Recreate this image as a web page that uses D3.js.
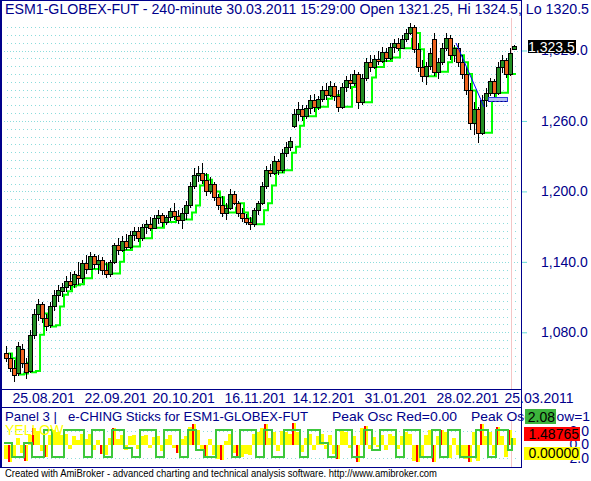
<!DOCTYPE html>
<html>
<head>
<meta charset="utf-8">
<script src="https://cdn.jsdelivr.net/npm/d3@7"></script>
<style>
body { margin: 0; background: #fff; }
svg { display: block; font-family: "Liberation Sans", Arial, sans-serif; }
</style>
</head>
<body>
<svg id="chart" width="591" height="481"></svg>
<script>
// price bars (240-minute)
var opens = [1062,1058,1050,1045,1066,1054,1047,1078,1096,1104,
  1092,1086,1102,1112,1115,1119,1124,1121,1129,1126,
  1139,1134,1145,1138,1142,1133,1130,1140,1154,1150,
  1158,1153,1163,1166,1160,1170,1172,1169,1177,1180,
  1174,1178,1183,1179,1176,1182,1188,1205,1214,1216,
  1210,1200,1206,1195,1188,1182,1186,1198,1190,1182,
  1177,1174,1172,1184,1190,1205,1218,1216,1226,1218,
  1233,1238,1256,1266,1270,1264,1271,1278,1272,1279,
  1286,1282,1290,1281,1272,1289,1295,1292,1300,1276,
  1297,1310,1306,1313,1311,1319,1314,1323,1326,1322,
  1330,1335,1340,1321,1306,1298,1307,1330,1302,1310,
  1322,1331,1316,1322,1310,1300,1286,1258,1270,1250,
  1278,1284,1294,1284,1306,1312,1300,1321.25];
var highs = [1068,1062,1056,1072,1070,1058,1082,1100,1108,1106,
  1096,1106,1116,1120,1122,1128,1131,1132,1140,1142,
  1146,1148,1147,1146,1144,1140,1142,1156,1160,1162,
  1164,1166,1170,1170,1172,1176,1178,1180,1184,1182,
  1180,1186,1190,1184,1186,1192,1208,1220,1222,1224,
  1216,1212,1208,1198,1196,1190,1202,1200,1192,1186,
  1181,1178,1186,1192,1208,1222,1223,1230,1228,1236,
  1242,1246,1270,1276,1274,1274,1282,1283,1281,1290,
  1292,1294,1292,1286,1292,1298,1300,1303,1302,1300,
  1314,1316,1316,1320,1323,1322,1326,1330,1331,1333,
  1338,1343,1342,1326,1312,1310,1322,1335,1314,1326,
  1335,1333,1325,1326,1316,1306,1292,1276,1272,1282,
  1288,1297,1296,1310,1316,1314,1322,1324.5];
var lows = [1055,1046,1038,1043,1050,1040,1045,1074,1090,1088,
  1081,1084,1098,1106,1110,1114,1116,1118,1120,1122,
  1130,1133,1134,1130,1129,1126,1127,1138,1146,1148,
  1150,1151,1158,1157,1158,1164,1166,1168,1172,1170,
  1171,1175,1176,1172,1168,1176,1186,1202,1208,1206,
  1196,1198,1192,1184,1178,1176,1184,1188,1178,1174,
  1171,1167,1170,1180,1188,1202,1212,1214,1214,1216,
  1229,1234,1254,1260,1260,1262,1266,1268,1269,1276,
  1278,1280,1277,1268,1270,1285,1287,1290,1270,1274,
  1294,1302,1304,1308,1309,1310,1312,1318,1320,1321,
  1327,1333,1318,1302,1293,1291,1303,1298,1296,1308,
  1320,1312,1310,1306,1296,1282,1252,1248,1241,1248,
  1272,1281,1280,1282,1301,1297,1298,1320.5];
var closes = [1058,1050,1044,1068,1054,1046,1078,1096,1104,1092,
  1085,1102,1112,1116,1119,1124,1120,1130,1126,1139,
  1134,1145,1138,1142,1133,1130,1140,1154,1150,1158,
  1153,1163,1166,1160,1170,1172,1169,1177,1180,1174,
  1178,1183,1179,1176,1182,1188,1205,1214,1216,1210,
  1200,1206,1195,1188,1182,1186,1198,1190,1182,1177,
  1174,1172,1184,1190,1205,1218,1216,1226,1218,1233,
  1238,1243,1266,1270,1264,1271,1278,1272,1279,1286,
  1282,1290,1281,1272,1289,1295,1292,1300,1276,1297,
  1310,1306,1313,1311,1319,1314,1323,1326,1322,1330,
  1335,1340,1321,1306,1298,1307,1318,1302,1310,1322,
  1331,1316,1322,1310,1300,1286,1258,1270,1250,1278,
  1284,1294,1284,1306,1312,1300,1318,1323.5];
// bright green trailing step line
var stopLine = [1062,1058,1050,1044,1045,1054,1046,1047,1078,1096,
  1092,1085,1086,1102,1112,1115,1119,1120,1121,1126,
  1126,1134,1134,1138,1138,1133,1130,1130,1140,1150,
  1150,1153,1153,1163,1160,1160,1170,1169,1169,1177,
  1174,1174,1178,1179,1176,1176,1182,1188,1205,1214,
  1210,1200,1200,1195,1188,1182,1182,1186,1190,1182,
  1177,1174,1172,1172,1184,1190,1205,1216,1216,1218,
  1218,1233,1238,1256,1266,1264,1264,1271,1272,1272,
  1279,1282,1282,1281,1272,1272,1289,1292,1292,1276,
  1276,1297,1306,1306,1311,1311,1314,1314,1323,1322,
  1322,1330,1335,1321,1306,1298,1298,1307,1302,1302,
  1310,1322,1316,1316,1310,1300,1286,1258,1258,1250,
  1250,1278,1284,1284,1284,1306,1300,1300];

// trendline and box drawn on the price panel (bar index, price)
var trendLine = [{ i: 112.5, p: 1326.4 }, { i: 119.5, p: 1272 }];
var markerBox = { i0: 120.5, i1: 125.25, p0: 1277, p1: 1280.4 };

var priceTicks = [1080, 1140, 1200, 1260, 1320];
var dateIdx = [2, 20, 37, 55, 72, 90, 108, 125];
var dateLabels = ["25.08.201", "22.09.201", "20.10.201", "16.11.201", "14.12.201", "31.01.201", "28.02.201", "25.03.2011"];

// Panel 3: e-CHING sticks
var yellowOsc = [-2.2,-2.6,-2.0,1.0,-1.2,-2.4,1.4,2.4,2.0,-1.0,
  -1.8,1.4,2.2,1.8,1.4,1.6,-0.6,1.2,0.6,1.6,
  0.8,1.6,-0.8,0.6,-1.4,-1.6,1.0,2.4,0.8,1.4,
  -0.8,1.2,1.4,-0.6,1.2,1.4,-0.5,1.1,1.2,-1.0,
  0.8,1.4,-0.5,-1.2,0.8,1.2,2.6,3.0,2.2,-1.0,
  -2.0,0.8,-1.5,-2.2,-2.3,0.5,1.5,-1.2,-2.0,-1.8,
  -1.4,-1.6,1.5,1.9,2.4,3.0,0.9,1.8,-1.0,2.0,
  1.8,1.5,3.2,1.8,-1.1,1.0,1.5,-0.8,1.2,1.6,
  -0.7,1.4,-1.4,-2.2,2.0,1.8,-0.5,1.2,-2.6,2.4,
  2.8,-0.7,1.1,-0.4,1.4,-0.8,1.5,1.2,-0.7,1.2,
  1.8,1.5,-2.4,-2.6,-2.0,1.4,2.2,-2.6,1.2,2.2,
  1.9,-2.0,1.0,-1.5,-1.9,-2.2,-2.6,1.8,-2.4,3.0,
  1.2,1.8,-1.5,2.6,1.2,-1.8,2.2,1.0];
var redOsc = [0,-2.6,0,0,0,-2.4,0,2.4,0,0,
  -1.8,0,0,0,0,0,0,0,0,0,
  0,0,0,0,-1.4,0,0,2.4,0,0,
  0,0,0,0,0,0,0,0,0,0,
  0,0,0,-1.2,0,0,0,3.0,0,0,
  -2.0,0,0,0,-2.3,0,0,0,-2.0,0,
  0,0,0,0,0,3.0,0,0,0,0,
  0,0,3.2,0,0,0,0,0,0,0,
  0,0,0,-2.2,0,0,0,0,-2.6,0,
  2.8,0,0,0,0,0,0,0,0,0,
  0,0,0,-2.6,0,0,0,-2.6,0,2.2,
  0,0,0,0,0,0,-2.6,0,0,3.0,
  0,0,0,2.6,0,0,2.2,0];
var greenWave = [0.2,0.2,-1.8,-1.8,-1.8,0.2,0.2,-1.8,-1.8,-1.8,
  2.2,2.2,-1.8,-1.8,-1.8,2.2,2.2,2.2,2.2,2.2,
  -1.8,-1.8,2.2,2.2,2.2,-1.8,-1.8,2.2,2.2,2.2,
  -0.5,-0.5,-1.8,-1.8,2.2,2.2,2.2,2.2,-1.8,-1.8,
  2.2,2.2,2.2,2.2,-1.8,-1.8,2.2,2.2,-0.8,-0.8,
  -1.8,-1.8,-1.8,2.2,2.2,2.2,2.2,-1.8,-1.8,2.2,
  2.2,2.2,2.2,-1.8,-1.8,2.2,2.2,-1.8,-1.8,-1.8,
  2.2,2.2,2.2,2.2,-1.8,-1.8,2.2,2.2,2.2,0.2,
  0.2,-1.8,-1.8,2.2,2.2,2.2,2.2,-1.8,-1.8,-1.8,
  2.2,2.2,-0.8,-0.8,2.2,2.2,2.2,2.2,-1.8,-1.8,
  2.2,2.2,2.2,2.2,-1.8,-1.8,-1.8,2.2,2.2,-1.8,
  -1.8,2.2,2.2,2.2,-1.8,-1.8,-1.8,-1.8,2.2,2.2,
  2.2,-1.8,-1.8,2.2,2.2,2.2,-0.8,1.0];
var oscTicks = [2, 0, -2];
var oscValues = { green: "2.08", red: "1.48765", yellow: "0.00000" };

var navy = "#00008b";
var gridColor = "#8cdcdc";
var fontFamily = "'Liberation Sans', Arial, sans-serif";

var svg = d3.select("#chart");
svg.append("rect").attr("width", 591).attr("height", 481).attr("fill", "#fff");

var xScale = d3.scaleLinear().domain([0, closes.length - 1]).range([6, 514]);
var yScale = d3.scaleLinear().domain([1080, 1320]).range([332.3, 50.5]);
var oscScale = d3.scaleLinear().domain([-2, 2]).range([458, 431]);

var defs = svg.append("defs");
defs.append("clipPath").attr("id", "clipTop")
    .append("rect").attr("x", 2).attr("y", 17).attr("width", 519).attr("height", 372);
defs.append("clipPath").attr("id", "clipBot")
    .append("rect").attr("x", 2).attr("y", 421).attr("width", 519).attr("height", 46);

// ---- upper panel ----
var pricePanel = svg.append("g").attr("clip-path", "url(#clipTop)");

// dotted grid, 9 steps per 60 points
var gridVals = d3.range(-5, 40).map(function (k) { return { k: k, v: 1080 + k * 60 / 9 }; })
    .filter(function (d) { var y = yScale(d.v); return y > 18 && y < 387; });
pricePanel.selectAll("line.grid").data(gridVals).enter()
    .append("line")
    .attr("x1", function (d) { return d.k % 9 == 0 ? 4 : 7; })
    .attr("x2", 519)
    .attr("y1", function (d) { return Math.round(yScale(d.v)) + 0.5; })
    .attr("y2", function (d) { return Math.round(yScale(d.v)) + 0.5; })
    .attr("stroke", gridColor)
    .attr("stroke-dasharray", function (d) { return d.k % 9 == 0 ? "1,2" : "1,3"; });

// current bar marker
var markX = Math.round(xScale(closes.length - 1)) - 2.5;
pricePanel.append("line").attr("x1", markX).attr("x2", markX).attr("y1", 18).attr("y2", 389)
    .attr("stroke", "#f5c6c6");

// green step line
var stepLine = d3.line()
    .x(function (d, i) { return xScale(i) + 2; })
    .y(function (d) { return yScale(d); })
    .curve(d3.curveStepAfter);
pricePanel.append("path").datum(stopLine)
    .attr("d", stepLine)
    .attr("fill", "none")
    .attr("stroke", "#00ff00")
    .attr("stroke-width", 2);

// candles
var bars = pricePanel.selectAll("g.bar").data(d3.range(closes.length)).enter()
    .append("g").attr("class", "bar").attr("shape-rendering", "crispEdges");
bars.append("line")
    .attr("x1", function (i) { return Math.round(xScale(i)) + 0.5; })
    .attr("x2", function (i) { return Math.round(xScale(i)) + 0.5; })
    .attr("y1", function (i) { return yScale(highs[i]); })
    .attr("y2", function (i) { return yScale(lows[i]); })
    .attr("stroke", "#000");
bars.append("rect")
    .attr("x", function (i) { return Math.round(xScale(i)) - 1.5; })
    .attr("width", 4)
    .attr("y", function (i) { return Math.round(yScale(Math.max(opens[i], closes[i]))) + 0.5; })
    .attr("height", function (i) {
        return Math.max(1, Math.round(yScale(Math.min(opens[i], closes[i]))) - Math.round(yScale(Math.max(opens[i], closes[i]))));
    })
    .attr("fill", function (i) { return closes[i] >= opens[i] ? "#239023" : "#ee6420"; })
    .attr("stroke", "#000");

// trendline
pricePanel.append("line")
    .attr("x1", xScale(trendLine[0].i)).attr("y1", yScale(trendLine[0].p))
    .attr("x2", xScale(trendLine[1].i)).attr("y2", yScale(trendLine[1].p))
    .attr("stroke", "#0000ff");

// small box
var bx0 = Math.round(xScale(markerBox.i0)) + 0.5, bx1 = Math.round(xScale(markerBox.i1)) + 0.5;
var by0 = Math.round(yScale(markerBox.p1)) + 0.5, by1 = Math.round(yScale(markerBox.p0)) + 0.5;
pricePanel.append("rect").attr("x", bx0).attr("y", by0).attr("width", bx1 - bx0).attr("height", by1 - by0)
    .attr("fill", "#b4bcf4").attr("stroke", "#2a3ae0");
pricePanel.append("line").attr("x1", bx0).attr("x2", bx1).attr("y1", by1).attr("y2", by1)
    .attr("stroke", "#000080").attr("stroke-dasharray", "2,2");

// price axis
var yAxis = d3.axisRight(yScale)
    .tickValues(priceTicks)
    .tickFormat(d3.format(",.1f"))
    .tickSize(5)
    .tickPadding(14)
    .tickSizeOuter(0);
var gy = svg.append("g")
    .attr("transform", "translate(522,0)")
    .call(yAxis)
    .attr("font-size", 14)
    .attr("font-family", fontFamily);
gy.select(".domain").remove();
gy.selectAll(".tick line").attr("stroke", "#66d9d9");
gy.selectAll(".tick text").attr("fill", navy);

// last value flag
var lastY = yScale(closes[closes.length - 1]);
svg.append("rect").attr("x", 528).attr("y", Math.round(lastY) - 6).attr("width", 48).attr("height", 13)
    .attr("fill", "#000");
svg.append("text").attr("x", 528).attr("y", Math.round(lastY) + 6)
    .attr("font-size", 14).attr("fill", "#fff")
    .text(d3.format(",.1f")(closes[closes.length - 1]));

// date axis
var xAxis = d3.axisBottom(xScale)
    .tickValues(dateIdx)
    .tickFormat(function (d, i) { return dateLabels[i]; })
    .tickSize(0)
    .tickPadding(0);
var gx = svg.append("g")
    .attr("transform", "translate(0,390)")
    .call(xAxis)
    .attr("font-size", 14)
    .attr("font-family", fontFamily);
gx.select(".domain").remove();
gx.selectAll(".tick text")
    .attr("text-anchor", "start")
    .attr("dx", -2)
    .attr("y", 13)
    .attr("dy", 0)
    .attr("fill", navy);

// title
svg.append("text").attr("x", 5).attr("y", 14)
    .attr("font-size", 14).attr("fill", navy)
    .attr("textLength", 584).attr("lengthAdjust", "spacingAndGlyphs")
    .text("ESM1-GLOBEX-FUT - 240-minute 30.03.2011 15:29:00 Open 1321.25, Hi 1324.5, Lo 1320.5");

// ---- lower panel ----
var oscPanel = svg.append("g").attr("clip-path", "url(#clipBot)");

oscPanel.selectAll("line.ogrid").data(oscTicks.filter(function (d) { return d != 0; })).enter()
    .append("line")
    .attr("x1", 7).attr("x2", 519)
    .attr("y1", function (d) { return Math.round(oscScale(d)) + 0.5; })
    .attr("y2", function (d) { return Math.round(oscScale(d)) + 0.5; })
    .attr("stroke", gridColor)
    .attr("stroke-dasharray", "1,3");

oscPanel.append("line").attr("x1", markX).attr("x2", markX).attr("y1", 408).attr("y2", 467)
    .attr("stroke", "#f5c6c6");

var zeroY = oscScale(0);
oscPanel.selectAll("rect.ys").data(yellowOsc).enter()
    .append("rect")
    .attr("shape-rendering", "crispEdges")
    .attr("x", function (d, i) { return Math.round(xScale(i)) - 2; })
    .attr("width", 4)
    .attr("y", function (d) { return Math.min(zeroY, oscScale(d)); })
    .attr("height", function (d) { return Math.abs(oscScale(d) - zeroY); })
    .attr("fill", "#ffff00");
oscPanel.selectAll("rect.rs").data(redOsc).enter()
    .append("rect")
    .attr("shape-rendering", "crispEdges")
    .attr("x", function (d, i) { return Math.round(xScale(i)) - 2; })
    .attr("width", 2)
    .attr("y", function (d) { return Math.min(zeroY, oscScale(d)); })
    .attr("height", function (d) { return Math.abs(oscScale(d) - zeroY); })
    .attr("fill", "#ff0000");

var waveLine = d3.line()
    .x(function (d, i) { return Math.round(xScale(i)) - 2; })
    .y(function (d) { return Math.round(oscScale(d)); })
    .curve(d3.curveStepAfter);
oscPanel.append("path").datum(greenWave)
    .attr("d", waveLine)
    .attr("fill", "none")
    .attr("stroke", "#3cc83c")
    .attr("stroke-width", 2);

// lower axis labels (mostly hidden behind the value boxes)
var oAxis = d3.axisRight(oscScale)
    .tickValues(oscTicks)
    .tickFormat(d3.format(".1f"))
    .tickSize(0)
    .tickPadding(0);
var go = svg.append("g")
    .attr("transform", "translate(522,0)")
    .call(oAxis)
    .attr("font-size", 14)
    .attr("font-family", fontFamily);
go.select(".domain").remove();
go.selectAll(".tick text").attr("text-anchor", "end").attr("x", 67).attr("fill", navy);

// panel header
var hdr = svg.append("g").attr("font-size", 13.5).attr("fill", navy);
hdr.append("text").attr("x", 5).attr("y", 421)
    .attr("textLength", 52).attr("lengthAdjust", "spacingAndGlyphs").text("Panel 3 |");
hdr.append("text").attr("x", 68).attr("y", 421)
    .attr("textLength", 240).attr("lengthAdjust", "spacingAndGlyphs").text("e-CHING Sticks for ESM1-GLOBEX-FUT");
hdr.append("text").attr("x", 332).attr("y", 421)
    .attr("textLength", 125).attr("lengthAdjust", "spacingAndGlyphs").text("Peak Osc Red=0.00");
hdr.append("text").attr("x", 471).attr("y", 421)
    .attr("textLength", 119).attr("lengthAdjust", "spacingAndGlyphs").text("Peak Osc Yellow=1");

svg.append("text").attr("x", 5).attr("y", 435)
    .attr("font-size", 14).attr("fill", "#ffff00")
    .text("YELLOW");

// value boxes
var boxes = [
    { txt: oscValues.green, fill: "#3cb43c", x: 525, y: 409, w: 31, h: 15 },
    { txt: oscValues.red, fill: "#ff0000", x: 524, y: 427, w: 56, h: 14 },
    { txt: oscValues.yellow, fill: "#ffff00", x: 524, y: 447, w: 56, h: 13 }
];
boxes.forEach(function (b) {
    svg.append("rect").attr("x", b.x).attr("y", b.y).attr("width", b.w).attr("height", b.h).attr("fill", b.fill);
    svg.append("text").attr("x", b.x + b.w - 1).attr("y", b.y + b.h - 2)
        .attr("text-anchor", "end").attr("font-size", 14).attr("fill", "#000").text(b.txt);
});

// frame
var frame = svg.append("g").attr("stroke", navy).attr("fill", "none").attr("shape-rendering", "crispEdges");
frame.append("rect").attr("x", 0).attr("y", 0).attr("width", 2).attr("height", 468).attr("fill", navy).attr("stroke", "none");
frame.append("line").attr("x1", 0).attr("x2", 522).attr("y1", 0.5).attr("y2", 0.5);
frame.append("line").attr("x1", 521.5).attr("x2", 521.5).attr("y1", 0).attr("y2", 468);
frame.append("line").attr("x1", 0).attr("x2", 522).attr("y1", 389.5).attr("y2", 389.5);
frame.append("line").attr("x1", 0).attr("x2", 522).attr("y1", 407.5).attr("y2", 407.5);
frame.append("line").attr("x1", 0).attr("x2", 522).attr("y1", 467.5).attr("y2", 467.5);

// footer
svg.append("text").attr("x", 5).attr("y", 477)
    .attr("font-size", 11).attr("fill", "#000")
    .attr("textLength", 432).attr("lengthAdjust", "spacingAndGlyphs")
    .text("Created with AmiBroker - advanced charting and technical analysis software. http://www.amibroker.com");
</script>
</body>
</html>
